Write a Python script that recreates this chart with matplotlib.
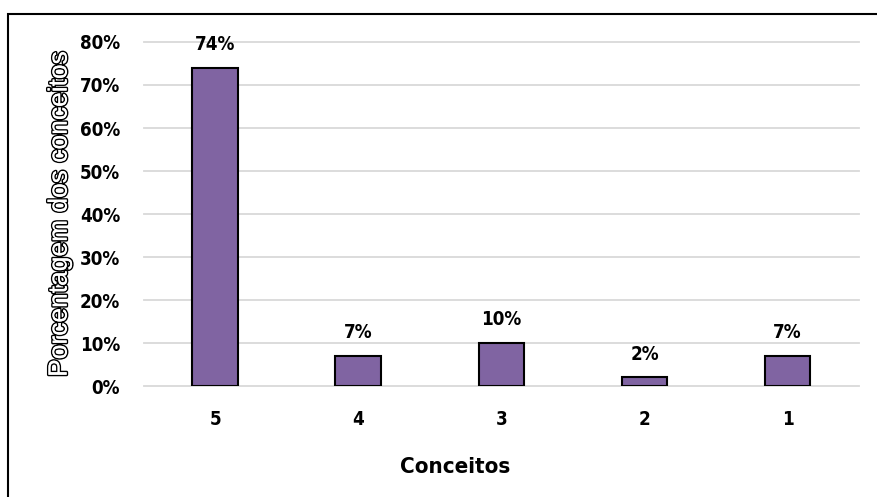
import matplotlib
matplotlib.use("Agg")
import matplotlib.pyplot as plt
import matplotlib.patheffects as pe
from matplotlib.patches import Rectangle

# dados
conceitos = ["5", "4", "3", "2", "1"]
porcentagens = [0.74, 0.07, 0.10, 0.02, 0.07]
rotulos = ["74%", "7%", "10%", "2%", "7%"]
y_ticks = [0.0, 0.1, 0.2, 0.3, 0.4, 0.5, 0.6, 0.7, 0.8]
y_tick_labels = ["0%", "10%", "20%", "30%", "40%", "50%", "60%", "70%", "80%"]

fonte = dict(family="DejaVu Sans", fontstretch="condensed", fontweight="bold")

fig = plt.figure(figsize=(8.77, 4.97), dpi=100)
ax = fig.add_axes([0.164, 0.2233, 0.8155, 0.6922])

x = range(len(conceitos))
bars = ax.bar(x, porcentagens, width=0.32, color="#8064A2",
              edgecolor="black", linewidth=1.5, zorder=3)

for b, txt in zip(bars, rotulos):
    ax.annotate(txt, (b.get_x() + b.get_width() / 2, b.get_height()),
                xytext=(0, 10), textcoords="offset points",
                ha="center", va="bottom", fontsize=13.5, **fonte)

ax.set_xlim(-0.5, len(conceitos) - 0.5)
ax.set_ylim(0, 0.8)
ax.set_yticks(y_ticks)
ax.set_yticklabels(y_tick_labels, fontsize=13.5, **fonte)
ax.set_xticks(list(x))
ax.set_xticklabels(conceitos, fontsize=13.5, **fonte)
ax.tick_params(axis="both", length=0)
ax.tick_params(axis="y", pad=17)
ax.tick_params(axis="x", pad=17)

ax.grid(axis="y", color="#D9D9D9", linewidth=1.3, zorder=0)
for gl in ax.get_ygridlines():
    gl.set_clip_on(False)
for s in ax.spines.values():
    s.set_visible(False)

ax.set_xlabel("Conceitos", fontsize=16, **fonte)
ax.xaxis.set_label_coords(0.435, -0.205)
ylab = ax.set_ylabel("Porcentagem dos conceitos", fontsize=19, color="white",
                     family="Liberation Sans", labelpad=6)
ylab.set_path_effects([pe.withStroke(linewidth=2.2, foreground="black"), pe.Normal()])

# moldura do gráfico (só topo e esquerda visíveis)
fig.add_artist(Rectangle((8 / 877, -0.1), 1.1, 1.1 - 14 / 497,
                         transform=fig.transFigure, fill=False,
                         edgecolor="black", linewidth=1.5))

fig.savefig("out.png", dpi=100)
